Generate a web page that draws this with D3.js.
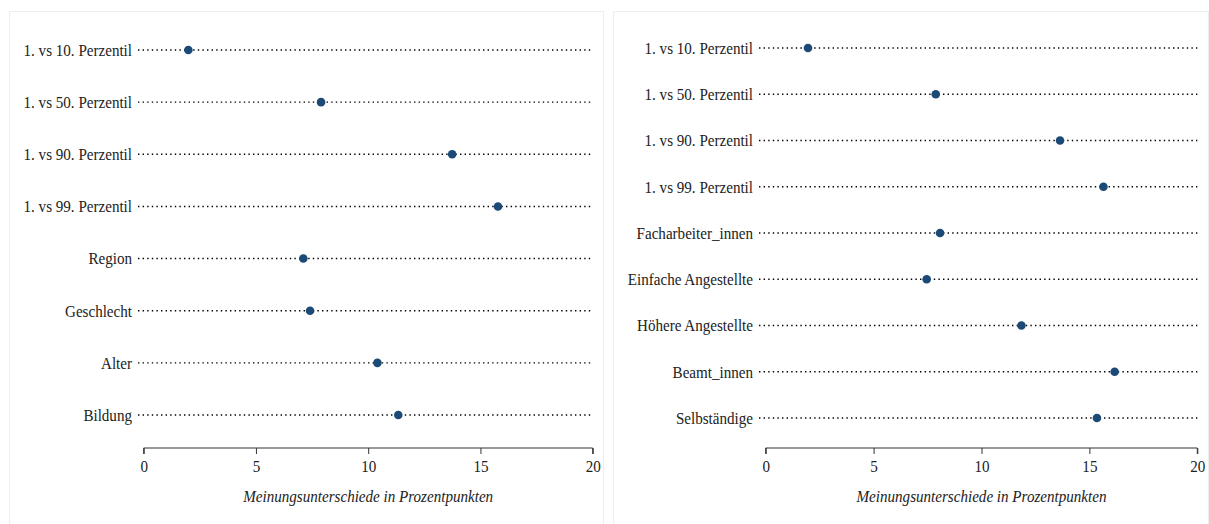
<!DOCTYPE html>
<html>
<head>
<meta charset="utf-8">
<script src="https://cdn.jsdelivr.net/npm/d3@7"></script>
<style>
  body { margin: 0; background: #fff; }
</style>
</head>
<body>
<div id="chart"></div>
<script>
// left panel
var leftCategories = ["1. vs 10. Perzentil", "1. vs 50. Perzentil", "1. vs 90. Perzentil",
    "1. vs 99. Perzentil", "Region", "Geschlecht", "Alter", "Bildung"];
var leftValues = [1.99, 7.9, 13.74, 15.78, 7.11, 7.41, 10.41, 11.34];

// right panel
var rightCategories = ["1. vs 10. Perzentil", "1. vs 50. Perzentil", "1. vs 90. Perzentil",
    "1. vs 99. Perzentil", "Facharbeiter_innen", "Einfache Angestellte",
    "Höhere Angestellte", "Beamt_innen", "Selbständige"];
var rightValues = [1.96, 7.88, 13.64, 15.65, 8.08, 7.46, 11.85, 16.17, 15.35];

var xTicks = [0, 5, 10, 15, 20];
var xTitle = "Meinungsunterschiede in Prozentpunkten";

var width = 1209, height = 524;
var serif = "'Liberation Serif', 'Times New Roman', 'DejaVu Serif', serif";
var fontSize = "16.5px";
var squeeze = "scale(0.915,1)";   // the original text is a bit narrow

var svg = d3.select("#chart")
    .append("svg")
    .attr("width", width)
    .attr("height", height);

function drawPanel(opt) {
    // panel frame
    svg.append("rect")
        .attr("x", opt.box[0] + 0.5)
        .attr("y", opt.box[1] + 0.5)
        .attr("width", opt.box[2])
        .attr("height", opt.box[3])
        .attr("fill", "none")
        .attr("stroke", "#eeeeee");

    var x = d3.scaleLinear().domain([0, 20]).range(opt.xRange);
    var y = d3.scalePoint().domain(opt.categories).range(opt.yRange);

    var rows = svg.append("g").selectAll(".row")
        .data(opt.categories)
        .enter()
        .append("g")
        .attr("class", "row")
        .attr("transform", function(d) { return "translate(0," + y(d) + ")"; });

    // dotted guide
    rows.append("line")
        .attr("x1", opt.lineStart)
        .attr("x2", x(20))
        .attr("stroke", "#000")
        .attr("stroke-width", 1.4)
        .attr("stroke-dasharray", "1.4,3.2");

    // label
    rows.append("text")
        .attr("transform", "translate(" + (opt.lineStart - 6) + ",0) " + squeeze)
        .attr("dy", "0.35em")
        .style("text-anchor", "end")
        .style("font-family", serif)
        .style("font-size", fontSize)
        .attr("fill", "#222")
        .text(function(d) { return d; });

    // dot
    rows.append("circle")
        .attr("cx", function(d, i) { return x(opt.values[i]); })
        .attr("r", 4.3)
        .attr("fill", "#1b4a77");

    var axis = svg.append("g")
        .attr("transform", "translate(0," + opt.axisY + ")")
        .call(d3.axisBottom(x).tickValues(xTicks).tickSize(6).tickPadding(6));
    axis.select(".domain").attr("stroke", "#333").attr("d", "M" + x(0) + ",6V0H" + x(20) + "V6");
    axis.selectAll(".tick line").attr("stroke", "#333");
    axis.selectAll(".tick text")
        .attr("transform", squeeze)
        .style("font-size", fontSize)
        .style("font-family", serif)
        .attr("fill", "#222");

    svg.append("text")
        .attr("transform", "translate(" + ((x(0) + x(20)) / 2) + "," + (opt.axisY + 54) + ") " + squeeze)
        .style("text-anchor", "middle")
        .style("font-family", serif)
        .style("font-size", fontSize)
        .style("font-style", "italic")
        .attr("fill", "#222")
        .text(xTitle);
}

drawPanel({
    box: [9, 11, 594, 530],
    categories: leftCategories,
    values: leftValues,
    xRange: [143.7, 592.7],
    yRange: [50, 415],
    lineStart: 138,
    axisY: 448
});

drawPanel({
    box: [613, 11, 595, 530],
    categories: rightCategories,
    values: rightValues,
    xRange: [765.7, 1197.3],
    yRange: [48, 418],
    lineStart: 759,
    axisY: 448
});
</script>
</body>
</html>
